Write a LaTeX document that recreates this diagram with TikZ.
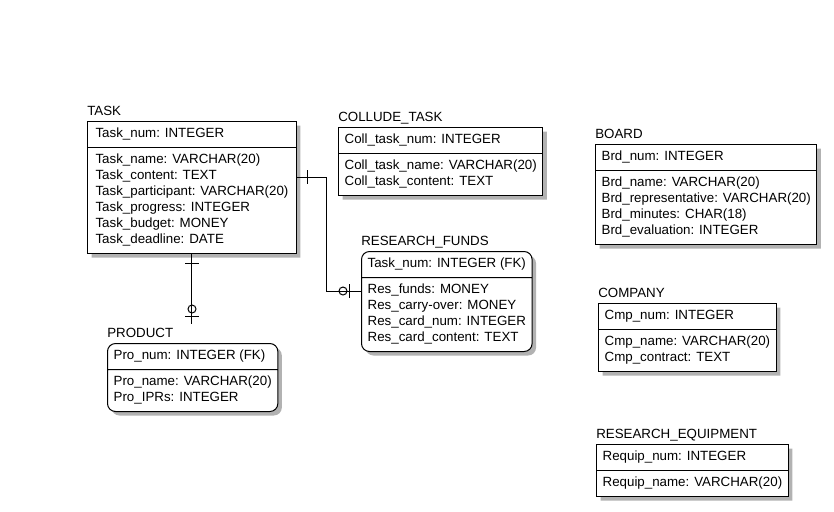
\documentclass[tikz,border=0pt]{standalone}
\usepackage{fontspec}
\setmainfont{Liberation Sans}
\usetikzlibrary{shapes.multipart,shadows}

\begin{document}
\begin{tikzpicture}[x=0.75pt,y=-0.75pt,
  every node/.style={font=\fontsize{10}{12}\selectfont},
  entity/.style={rectangle split,rectangle split parts=2,draw,line width=0.75pt,
    fill=white,align=left,rectangle split part align=left,
    inner xsep=4.6pt,inner ysep=3.375pt,anchor=north west,
    drop shadow={shadow xshift=3pt,shadow yshift=-3pt,fill=gray!60,opacity=1}},
  weak/.style={entity,rounded corners=6pt},
  title/.style={anchor=base west,inner sep=0pt,yshift=4.3pt},
  link/.style={line width=0.75pt}]
  \useasboundingbox (0,0) rectangle (834,511);

  % entities
  \node[entity,inner xsep=6pt] (task) at (87,121) {\strut Task\_num: INTEGER
    \nodepart{two}\strut Task\_name: VARCHAR(20)\\
    \strut Task\_content: TEXT\\
    \strut Task\_participant: VARCHAR(20)\\
    \strut Task\_progress: INTEGER\\
    \strut Task\_budget: MONEY\\
    \strut Task\_deadline: DATE};
  \node[entity] (collude) at (338,127) {\strut Coll\_task\_num: INTEGER
    \nodepart{two}\strut Coll\_task\_name: VARCHAR(20)\\
    \strut Coll\_task\_content: TEXT};
  \node[entity] (board) at (595,144) {\strut Brd\_num: INTEGER
    \nodepart{two}\strut Brd\_name: VARCHAR(20)\\
    \strut Brd\_representative: VARCHAR(20)\\
    \strut Brd\_minutes: CHAR(18)\\
    \strut Brd\_evaluation: INTEGER};
  \node[weak] (funds) at (361,251) {\strut Task\_num: INTEGER (FK)
    \nodepart{two}\strut Res\_funds: MONEY\\
    \strut Res\_carry-over: MONEY\\
    \strut Res\_card\_num: INTEGER\\
    \strut Res\_card\_content: TEXT};
  \node[weak] (product) at (107,343) {\strut Pro\_num: INTEGER (FK)
    \nodepart{two}\strut Pro\_name: VARCHAR(20)\\
    \strut Pro\_IPRs: INTEGER};
  \node[entity] (company) at (598,303) {\strut Cmp\_num: INTEGER
    \nodepart{two}\strut Cmp\_name: VARCHAR(20)\\
    \strut Cmp\_contract: TEXT};
  \node[entity] (equip) at (596,444) {\strut Requip\_num: INTEGER
    \nodepart{two}\strut Requip\_name: VARCHAR(20)};

  % titles
  \node[title] (tasktitle) at (task.north west) {TASK};
  \node[title] (colludetitle) at (collude.north west) {COLLUDE\_TASK};
  \node[title] (boardtitle) at (board.north west) {BOARD};
  \node[title] (fundstitle) at (funds.north west) {RESEARCH\_FUNDS};
  \node[title] (producttitle) at (product.north west) {PRODUCT};
  \node[title] (companytitle) at (company.north west) {COMPANY};
  \node[title] (equiptitle) at (equip.north west) {RESEARCH\_EQUIPMENT};

  % task -- product
  \draw[link,shorten >=2.6pt] (task.south) -- (task.south |- producttitle.north);
  \draw[link] (185,263) -- (199,263);
  \draw[link] (192,309) circle (3pt);
  \draw[link] (185,316) -- (199,316);

  % task -- research funds
  \coordinate (bendA) at (326,177);
  \coordinate (bendB) at (326,291);
  \draw[link] (task.east |- bendA) -- (bendA) -- (bendB) -- (funds.west |- bendB);
  \draw[link] (307,170) -- (307,184);
  \draw[link] (343,291) circle (3pt);
  \draw[link] (349,284) -- (349,298);
\end{tikzpicture}
\end{document}
